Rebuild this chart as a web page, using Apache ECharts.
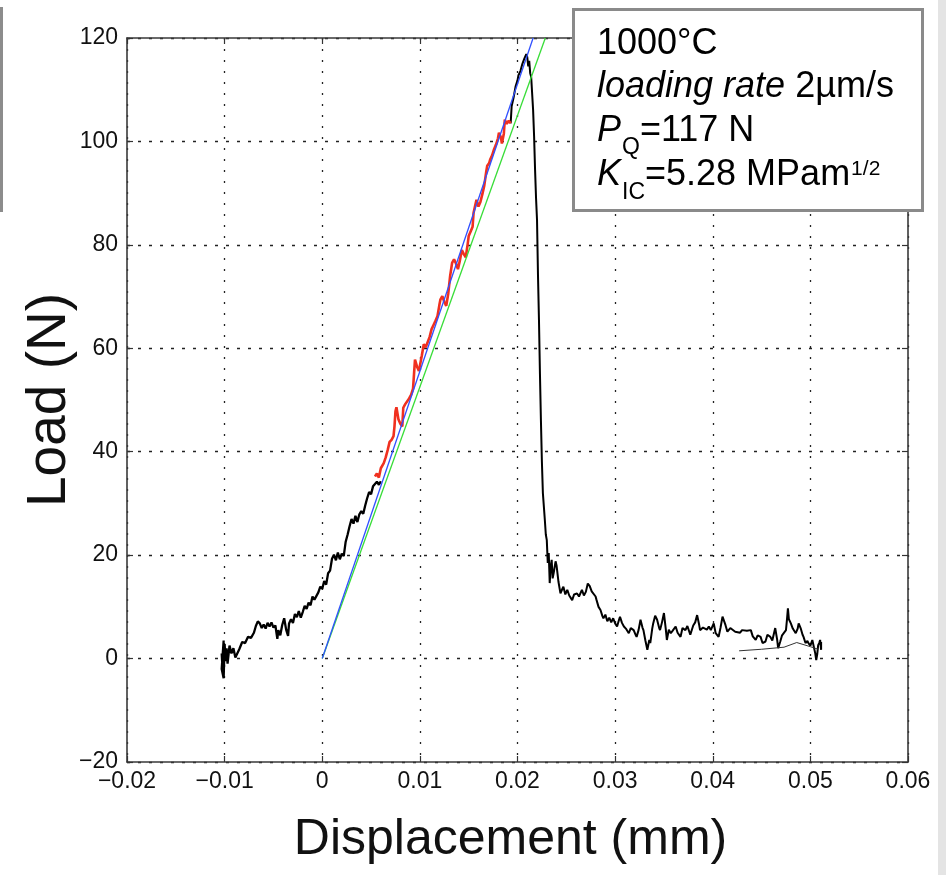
<!DOCTYPE html>
<html>
<head>
<meta charset="utf-8">
<script src="https://cdn.jsdelivr.net/npm/echarts@6/dist/echarts.min.js"></script>
<style>
  html, body { margin: 0; padding: 0; background: #fff; }
  #chart { width: 946px; height: 875px; }
</style>
</head>
<body>
<div id="chart"></div>
<script>
// Load–displacement record of a 1000 °C fracture test (loading rate 2 µm/s)

// axis ticks
const xTickLabels = ['\u22120.02', '\u22120.01', '0', '0.01', '0.02', '0.03', '0.04', '0.05', '0.06'];
const yTickLabels = ['\u221220', '0', '20', '40', '60', '80', '100', '120'];

// black trace: seating and initial loading [displacement mm, load N]
const riseCurve = [
  [-0.0103, 1.0], [-0.0102, -2.5], [-0.0101, 3.5], [-0.0103, -2.0], [-0.0101, -3.8], [-0.0100, 2.8],
  [-0.0099, -0.5], [-0.0098, 2.0], [-0.0097, -1.0], [-0.0095, 2.5], [-0.0093, 1.0], [-0.0091, 2.0],
  [-0.0089, 0.2], [-0.0087, 0.3], [-0.0085, 1.8], [-0.0082, 3.2], [-0.0079, 3.0], [-0.0076, 4.2],
  [-0.0073, 4.0], [-0.0070, 5.0], [-0.0068, 6.3], [-0.0066, 7.2], [-0.0064, 6.8], [-0.0062, 5.9],
  [-0.0060, 6.6], [-0.0058, 5.8], [-0.0056, 6.9], [-0.0054, 6.2], [-0.0052, 7.0], [-0.0050, 6.0],
  [-0.0048, 6.4], [-0.0046, 3.8], [-0.0045, 5.5], [-0.0043, 4.5], [-0.0041, 6.5], [-0.0039, 7.8],
  [-0.0037, 5.6], [-0.0035, 4.4], [-0.0034, 6.8], [-0.0032, 7.6], [-0.0030, 6.9], [-0.0028, 8.6],
  [-0.0026, 8.0], [-0.0024, 9.2], [-0.0022, 7.9], [-0.0020, 9.0], [-0.0018, 10.2], [-0.0016, 9.6],
  [-0.0014, 10.8], [-0.0012, 10.3], [-0.0010, 12.0], [-0.0008, 11.4], [-0.0006, 11.1], [-0.0004, 12.8],
  [-0.0002, 13.9], [0.0000, 13.5], [0.0002, 15.0], [0.0004, 14.3], [0.0006, 16.5], [0.0008, 17.0],
  [0.0010, 19.3], [0.0012, 20.1], [0.0014, 19.0], [0.0016, 20.5], [0.0018, 19.2], [0.0020, 20.3],
  [0.0022, 19.8], [0.0024, 22.6], [0.0026, 24.0], [0.0028, 25.6], [0.0030, 27.0], [0.0032, 26.1],
  [0.0034, 27.6], [0.0036, 26.4], [0.0038, 27.9], [0.0040, 28.5], [0.0042, 28.0], [0.0044, 29.6],
  [0.0046, 31.0], [0.0048, 32.2], [0.0050, 31.8], [0.0052, 33.3], [0.0054, 33.0], [0.0056, 34.2],
  [0.0058, 33.6], [0.0060, 34.3]
];

// red trace: window used for the linear fit
const fitWindow = [
  [0.0054, 35.2], [0.0056, 35.8], [0.0058, 35.0], [0.0060, 36.8], [0.0063, 37.8], [0.0065, 38.9],
  [0.0067, 40.3], [0.0069, 41.9], [0.0071, 42.3], [0.0073, 43.0], [0.0074, 44.9], [0.0075, 47.8],
  [0.0076, 48.6], [0.0078, 46.3], [0.0080, 45.4], [0.0082, 44.9], [0.0083, 48.5], [0.0085, 49.2],
  [0.0087, 49.5], [0.0089, 50.3], [0.0091, 51.0], [0.0093, 52.2], [0.0094, 55.0], [0.0095, 57.8],
  [0.0097, 56.5], [0.0099, 55.6], [0.0101, 57.6], [0.0102, 58.6], [0.0104, 60.8], [0.0106, 60.2],
  [0.0108, 60.5], [0.0110, 62.2], [0.0112, 63.7], [0.0114, 64.5], [0.0116, 65.3], [0.0118, 66.2],
  [0.0120, 68.4], [0.0121, 69.4], [0.0123, 70.1], [0.0125, 69.0], [0.0127, 68.2], [0.0129, 70.5],
  [0.0131, 74.0], [0.0133, 76.5], [0.0135, 77.2], [0.0137, 76.4], [0.0139, 75.3], [0.0141, 77.0],
  [0.0143, 79.0], [0.0145, 78.2], [0.0147, 77.6], [0.0149, 80.2], [0.0150, 81.7], [0.0152, 82.6],
  [0.0154, 83.5], [0.0155, 86.2], [0.0157, 87.9], [0.0158, 88.7], [0.0160, 87.4], [0.0162, 88.3],
  [0.0164, 89.8], [0.0166, 91.5], [0.0168, 94.2], [0.0169, 95.3], [0.0171, 95.8], [0.0172, 96.5],
  [0.0174, 97.3], [0.0176, 98.5], [0.0178, 99.4], [0.0180, 100.6], [0.0181, 101.7], [0.0183, 100.8],
  [0.0184, 99.6], [0.0186, 101.5], [0.0187, 104.2], [0.0189, 103.4], [0.0191, 104.0], [0.0193, 103.5]
];

// black trace: peak, fracture and residual load
const peakAndDrop = [
  [0.0193, 103.5], [0.0194, 106.8], [0.0196, 108.5], [0.0198, 110.6], [0.0200, 111.8], [0.0201, 112.8],
  [0.0203, 113.6], [0.0205, 115.0], [0.0207, 116.0], [0.0209, 116.9], [0.0210, 116.3], [0.0211, 114.5],
  [0.0212, 115.6], [0.0213, 113.2], [0.0214, 112.5], [0.0216, 106.0], [0.0217, 101.0], [0.0218, 94.5],
  [0.0219, 89.0], [0.0220, 84.8], [0.0221, 74.0], [0.0222, 65.4], [0.0223, 55.0], [0.0224, 46.0],
  [0.0225, 38.0], [0.0226, 32.0], [0.0228, 26.8], [0.0229, 24.0], [0.0230, 22.9], [0.0231, 18.5],
  [0.0232, 20.4], [0.0233, 14.6], [0.0234, 17.8], [0.0235, 19.1], [0.0236, 15.5], [0.0237, 16.5],
  [0.0239, 18.8], [0.0240, 18.0], [0.0242, 14.8], [0.0244, 12.6], [0.0246, 13.5], [0.0247, 13.9],
  [0.0249, 12.4], [0.0251, 13.3], [0.0253, 12.2], [0.0256, 11.3], [0.0258, 12.4], [0.0261, 12.6],
  [0.0263, 12.0], [0.0266, 13.3], [0.0268, 12.2], [0.0270, 12.9], [0.0272, 14.5], [0.0274, 14.0],
  [0.0276, 13.0], [0.0278, 13.3], [0.0280, 12.0], [0.0281, 11.3], [0.0283, 10.0], [0.0285, 9.4],
  [0.0287, 8.2], [0.0288, 7.8], [0.0290, 8.5], [0.0292, 7.2], [0.0294, 7.9], [0.0296, 7.0],
  [0.0298, 7.8], [0.0300, 6.8], [0.0302, 6.2], [0.0304, 7.5], [0.0305, 8.1], [0.0307, 6.9],
  [0.0309, 6.2], [0.0311, 5.8], [0.0314, 4.9], [0.0316, 5.9], [0.0319, 5.5], [0.0321, 4.6],
  [0.0322, 4.2], [0.0324, 5.5], [0.0326, 7.5], [0.0328, 6.0], [0.0329, 5.5], [0.0331, 3.5],
  [0.0333, 1.7], [0.0335, 3.6], [0.0336, 3.0], [0.0338, 5.8], [0.0339, 6.8], [0.0341, 8.3],
  [0.0343, 7.5], [0.0345, 6.0], [0.0346, 5.5], [0.0348, 7.0], [0.0350, 8.8], [0.0352, 5.5],
  [0.0353, 3.6], [0.0355, 5.6], [0.0357, 4.9], [0.0359, 5.4], [0.0362, 6.2], [0.0364, 5.0],
  [0.0367, 4.2], [0.0369, 5.9], [0.0372, 5.5], [0.0374, 6.3], [0.0377, 4.6], [0.0380, 6.4],
  [0.0382, 7.0], [0.0384, 8.4], [0.0386, 6.6], [0.0387, 5.5], [0.0390, 6.0], [0.0392, 6.2],
  [0.0394, 5.6], [0.0396, 6.2], [0.0398, 5.5], [0.0401, 6.8], [0.0403, 4.9], [0.0406, 4.2],
  [0.0408, 6.0], [0.0410, 8.1], [0.0411, 8.4], [0.0413, 6.5], [0.0415, 5.2], [0.0418, 5.9],
  [0.0420, 5.9], [0.0423, 5.2], [0.0425, 5.4], [0.0428, 5.0], [0.0430, 5.5], [0.0432, 5.6],
  [0.0435, 5.4], [0.0437, 5.3], [0.0439, 5.5], [0.0441, 4.3], [0.0444, 3.6], [0.0446, 4.5],
  [0.0449, 4.2], [0.0451, 3.0], [0.0454, 3.3], [0.0456, 4.6], [0.0459, 4.2], [0.0461, 3.5],
  [0.0464, 5.9], [0.0466, 3.6], [0.0467, 2.0], [0.0469, 3.2], [0.0471, 4.5], [0.0473, 4.2],
  [0.0475, 5.5], [0.0476, 7.5], [0.0477, 9.7], [0.0478, 7.6], [0.0480, 6.8], [0.0482, 5.8],
  [0.0485, 4.9], [0.0487, 5.8], [0.0488, 6.8], [0.0490, 5.9], [0.0492, 4.6], [0.0493, 4.2],
  [0.0495, 3.0], [0.0497, 3.4], [0.0498, 3.0], [0.0500, 2.5], [0.0502, 3.6], [0.0503, 3.9],
  [0.0505, 1.0], [0.0506, -0.3], [0.0507, 0.8], [0.0508, 2.6], [0.0509, 3.0], [0.0510, 3.6],
  [0.0511, 1.7], [0.0511, 3.2]
];

// thin smoothed residual line at the end of the test
const residualTrend = [[0.0427, 1.5], [0.0450, 1.8], [0.0473, 2.2], [0.0486, 3.1], [0.0500, 2.3], [0.0508, 1.8]];

// initial compliance line (blue) and 95 % secant line (green)
const complianceLine = [[0, 0], [0.0216, 120]];
const secantLine = [[0, 0], [0.02285, 120]];

const FONT = '"Liberation Sans", Arial, Helvetica, sans-serif';
const X_MIN = -0.02, X_STEP = 0.01, Y_MIN = -20, Y_STEP = 20;

const chart = echarts.init(document.getElementById('chart'), null, { renderer: 'canvas' });

const frameLine = { show: true, onZero: false, lineStyle: { color: '#3a3a3a', width: 1.6 } };
const innerTick = { show: true, inside: true, length: 6, lineStyle: { color: '#333', width: 1.2 } };

// annotation box text, laid out fragment by fragment
const measureCtx = document.createElement('canvas').getContext('2d');
function textWidth(font, s) { measureCtx.font = font; return measureCtx.measureText(s).width; }
const BOX_FS = 36;
const boxLines = [
  { y: 44, parts: [{ t: '1000\u00b0C' }] },
  { y: 87, parts: [{ t: 'loading rate', it: true }, { t: ' 2\u00b5m/s' }] },
  { y: 131, parts: [{ t: 'P', it: true }, { t: 'Q', size: 23, dy: 17, dx: 1 }, { t: '=117 N' }] },
  { y: 175, parts: [{ t: 'K', it: true }, { t: 'IC', size: 23, dy: 18, dx: 1 }, { t: '=5.28 MPam' }, { t: '1/2', size: 21, dy: -6, dx: 1 }] }
];
const boxTexts = [];
boxLines.forEach(line => {
  let x = 597;
  line.parts.forEach(p => {
    const font = (p.it ? 'italic ' : '') + (p.size || BOX_FS) + 'px ' + FONT;
    x += p.dx || 0;
    boxTexts.push({
      type: 'text', z: 102, x: x, y: line.y + (p.dy || 0),
      style: { text: p.t, font: font, fill: '#000', textAlign: 'left', textVerticalAlign: 'middle', align: 'left', verticalAlign: 'middle' }
    });
    x += textWidth(font, p.t);
  });
});

const option = {
  animation: false,
  backgroundColor: '#ffffff',
  textStyle: { fontFamily: FONT },
  grid: { left: 127, top: 38, width: 781, height: 724, containLabel: false },
  xAxis: [
    {
      type: 'value', min: X_MIN, max: 0.06, interval: X_STEP, position: 'bottom',
      axisLine: frameLine, axisTick: innerTick,
      axisLabel: {
        fontSize: 23, color: '#111', margin: 8, fontFamily: FONT,
        formatter: v => xTickLabels[Math.round((v - X_MIN) / X_STEP)]
      },
      splitLine: { show: true, lineStyle: { color: '#222', width: 1.3, type: [2, 9] } },
      name: 'Displacement (mm)', nameLocation: 'middle', nameGap: 53,
      nameTextStyle: { fontSize: 50, color: '#111', fontFamily: FONT, padding: [0, 14, 0, 0] }
    },
    {
      type: 'value', min: X_MIN, max: 0.06, interval: X_STEP, position: 'top',
      axisLine: frameLine, axisTick: innerTick, axisLabel: { show: false }, splitLine: { show: false }
    }
  ],
  yAxis: [
    {
      type: 'value', min: Y_MIN, max: 120, interval: Y_STEP, position: 'left',
      axisLine: frameLine, axisTick: innerTick,
      axisLabel: {
        fontSize: 23, color: '#111', margin: 9, fontFamily: FONT,
        formatter: v => yTickLabels[Math.round((v - Y_MIN) / Y_STEP)]
      },
      splitLine: { show: true, lineStyle: { color: '#222', width: 1.3, type: [3, 8] } },
      name: 'Load (N)', nameLocation: 'middle', nameGap: 50, nameMoveOverlap: false,
      nameTextStyle: { fontSize: 55, color: '#111', fontFamily: FONT }
    },
    {
      type: 'value', min: Y_MIN, max: 120, interval: Y_STEP, position: 'right',
      axisLine: frameLine, axisTick: innerTick, axisLabel: { show: false }, splitLine: { show: false }
    }
  ],
  series: [
    { name: 'rise', type: 'line', data: riseCurve, showSymbol: false, lineStyle: { color: '#000', width: 2.3 }, z: 3 },
    { name: 'fit window', type: 'line', data: fitWindow, showSymbol: false, lineStyle: { color: '#f0301f', width: 2.6 }, z: 4 },
    { name: 'peak and drop', type: 'line', data: peakAndDrop, showSymbol: false, lineStyle: { color: '#000', width: 2 }, z: 3 },
    { name: 'residual trend', type: 'line', data: residualTrend, showSymbol: false, lineStyle: { color: '#333', width: 1 }, z: 3 },
    { name: 'secant 95%', type: 'line', data: secantLine, showSymbol: false, lineStyle: { color: '#38dd38', width: 1.3 }, z: 5 },
    { name: 'initial slope', type: 'line', data: complianceLine, showSymbol: false, lineStyle: { color: '#3050ff', width: 1.3 }, z: 6 }
  ],
  graphic: [
    { type: 'rect', z: 100, shape: { x: 0, y: 7, width: 3, height: 205 }, style: { fill: '#8c8c8c' } },
    { type: 'rect', z: 100, shape: { x: 938, y: 0, width: 8, height: 875 }, style: { fill: '#e4e4e4' } },
    { type: 'rect', z: 101, shape: { x: 573.5, y: 9.5, width: 349, height: 201 }, style: { fill: '#ffffff', stroke: '#8a8a8a', lineWidth: 3 } }
  ].concat(boxTexts)
};

chart.setOption(option);
</script>
</body>
</html>
